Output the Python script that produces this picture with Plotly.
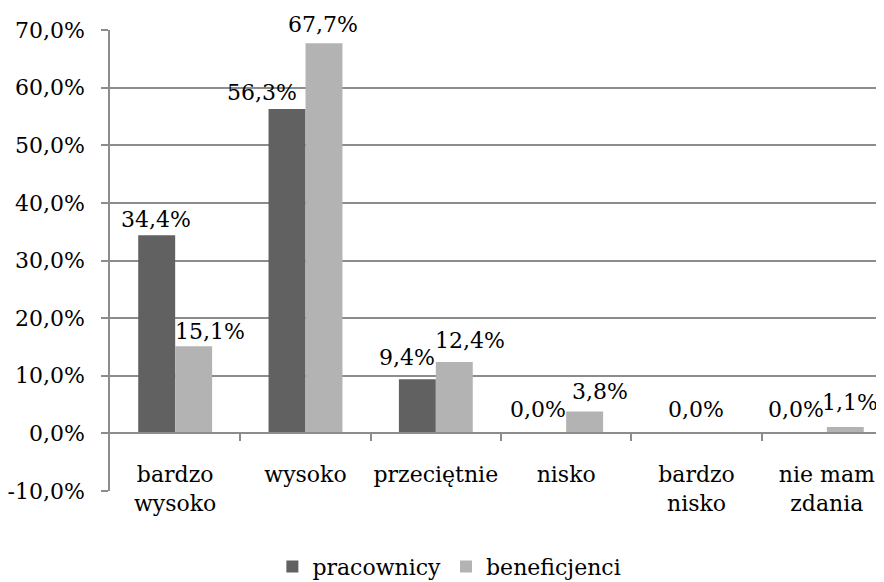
import plotly.graph_objects as go

categories = ["bardzo<br>wysoko", "wysoko", "przeciętnie", "nisko", "bardzo<br>nisko", "nie mam<br>zdania"]
pracownicy = [34.4, 56.3, 9.4, 0.0, 0.0, 0.0]
beneficjenci = [15.1, 67.7, 12.4, 3.8, 0.0, 1.1]
pracownicy_labels = ["34,4%", "56,3%", "9,4%", "0,0%", "0,0%", "0,0%"]
beneficjenci_labels = ["15,1%", "67,7%", "12,4%", "3,8%", "", "1,1%"]
y_tickvals = [-10, 0, 10, 20, 30, 40, 50, 60, 70]
y_ticktext = ["-10,0%", "0,0%", "10,0%", "20,0%", "30,0%", "40,0%", "50,0%", "60,0%", "70,0%"]

FONT = "DejaVu Serif"
FS = 22
DARK = "#616161"
LIGHT = "#b3b3b3"
GRID = "#8c8c8c"

# label nudges (px) mimicking Excel's label placement
p_dx = [-1, -25, -10, -10, 18, -12]
b_dx = [16, -1, 16, 15, 0, 5]
p_dy = [1, 2, 7, 9, 9, 9]
b_dy = [0, 4, 7, 5, 0, 10]

first_lines = [c.split("<br>")[0] for c in categories]
second_lines = [c.split("<br>")[1] if "<br>" in c else "" for c in categories]
idx = list(range(len(categories)))

fig = go.Figure()
fig.add_trace(go.Bar(name="pracownicy", x=idx, y=pracownicy, marker_color=DARK, marker_line_width=0))
fig.add_trace(go.Bar(name="beneficjenci", x=idx, y=beneficjenci, marker_color=LIGHT, marker_line_width=0))

half = (1 - 0.433) / 4
annotations = []
for i in idx:
    annotations.append(dict(x=i - half, y=pracownicy[i], xref="x", yref="y", text=pracownicy_labels[i],
                            showarrow=False, yanchor="bottom", xshift=p_dx[i], yshift=p_dy[i],
                            font=dict(family=FONT, size=FS, color="#000")))
    if beneficjenci_labels[i]:
        annotations.append(dict(x=i + half, y=beneficjenci[i], xref="x", yref="y", text=beneficjenci_labels[i],
                                showarrow=False, yanchor="bottom", xshift=b_dx[i], yshift=b_dy[i],
                                font=dict(family=FONT, size=FS, color="#000")))

fig.update_layout(
    width=884, height=582,
    margin=dict(l=102, r=0, t=22, b=99, autoexpand=False),
    paper_bgcolor="white", plot_bgcolor="white",
    font=dict(family=FONT, size=FS, color="#000"),
    barmode="group", bargap=0.433, bargroupgap=0,
    showlegend=True,
    legend=dict(orientation="h", x=0.434, xanchor="center", yref="container", y=0.04, yanchor="middle",
                font=dict(family=FONT, size=FS), itemwidth=30, traceorder="normal"),
    annotations=annotations,
)
fig.update_xaxes(
    type="linear", range=[-0.5, 5.5], tickvals=idx, ticktext=first_lines,
    anchor="free", position=0.125, showgrid=False, zeroline=False, automargin=False,
    showline=True, linecolor=GRID, linewidth=1.5,
    ticks="", ticklabelstandoff=21, tickfont=dict(family=FONT, size=FS),
)
fig.update_layout(
    xaxis2=dict(overlaying="x", anchor="free", position=0.125, automargin=False,
                range=[-0.5, 5.5], tickvals=[i + 0.5 for i in idx[:-1]],
                showticklabels=False, ticks="outside", ticklen=7, tickcolor=GRID,
                tickwidth=1.5, showgrid=False, zeroline=False, showline=False),
    xaxis3=dict(overlaying="x", anchor="free", position=0.125, automargin=False,
                range=[-0.5, 5.5], tickvals=idx, ticktext=second_lines, ticks="",
                ticklabelstandoff=55, tickfont=dict(family=FONT, size=FS),
                showgrid=False, zeroline=False, showline=False),
)
fig.add_trace(go.Scatter(x=[0], y=[0], xaxis="x2", mode="markers", marker_opacity=0,
                         showlegend=False, hoverinfo="skip"))
fig.add_trace(go.Scatter(x=[0], y=[0], xaxis="x3", mode="markers", marker_opacity=0,
                         showlegend=False, hoverinfo="skip"))
fig.update_yaxes(
    range=[-10, 70], tickvals=y_tickvals, ticktext=y_ticktext, automargin=False,
    showgrid=True, gridcolor=GRID, gridwidth=1.5, zeroline=False,
    showline=True, linecolor=GRID, linewidth=1.5,
    ticks="outside", ticklen=7, tickcolor=GRID, tickwidth=1.5,
    ticklabelstandoff=12, tickfont=dict(family=FONT, size=FS),
)

fig.write_html("out.html")
